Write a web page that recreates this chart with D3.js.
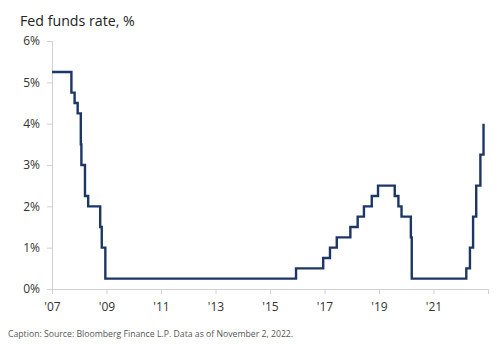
<!DOCTYPE html>
<html><head><meta charset="utf-8">
<script src="https://cdn.jsdelivr.net/npm/d3@7"></script>
<style>body{margin:0;background:#fff}svg{display:block}</style>
</head><body>
<svg id="c" width="500" height="344"></svg>
<script>
const dates = ["2007-01-01","2007-09-18","2007-10-31","2007-12-11","2008-01-22","2008-01-30","2008-03-18","2008-04-30","2008-10-08","2008-10-29","2008-12-16",
"2015-12-16","2016-12-14","2017-03-15","2017-06-14","2017-12-13","2018-03-21","2018-06-13","2018-09-26","2018-12-19",
"2019-07-31","2019-09-18","2019-10-30","2020-03-03","2020-03-15",
"2022-03-16","2022-05-04","2022-06-15","2022-07-27","2022-09-21","2022-11-02"];
const rates = [5.25,4.75,4.5,4.25,3.5,3.0,2.25,2.0,1.5,1.0,0.25,
0.5,0.75,1.0,1.25,1.5,1.75,2.0,2.25,2.5,
2.25,2.0,1.75,1.25,0.25,
0.5,1.0,1.75,2.5,3.25,4.0];
const yTicks = [0,1,2,3,4,5,6];
const xTickYears = [2007,2009,2011,2013,2015,2017,2019,2021];

const svg = d3.select("#c");
const parse = d3.timeParse("%Y-%m-%d");
const data = dates.map((d,i)=>({date:parse(d), v:rates[i]}));
const x = d3.scaleTime().domain([new Date(2007,0,1), new Date(2023,0,1)]).range([52,488]);
const y = d3.scaleLinear().domain([0,6]).range([289,41]);
const font = "'Open Sans', 'Noto Sans', sans-serif";

svg.append("text").attr("x",20).attr("y",26).attr("font-family",font).attr("font-size",14.2).attr("fill","#222").text("Fed funds rate, %");

const ya = svg.append("g").attr("transform","translate(52,0)")
  .call(d3.axisLeft(y).tickValues(yTicks).tickFormat(d=>d+"%").tickSize(5).tickPadding(7));
const xa = svg.append("g").attr("transform","translate(0,289)")
  .call(d3.axisBottom(x).tickValues(xTickYears.map(yy=>new Date(yy,0,1))).tickFormat(d=>"'"+String(d.getFullYear()).slice(2)).tickSize(5).tickPadding(8));
[ya,xa].forEach(a=>{
  a.selectAll("path,line").attr("stroke","#d0d0d0");
  a.selectAll("text").attr("font-family",font).attr("font-size",12).attr("fill","#333");
});

const line = d3.line().x(d=>x(d.date)).y(d=>y(d.v)).curve(d3.curveStepAfter);
svg.append("path").datum(data).attr("d",line).attr("fill","none").attr("stroke","#1c3766").attr("stroke-width",2.4);

svg.append("text").attr("x",8).attr("y",337).attr("font-family",font).attr("font-size",8.7).attr("fill","#555")
  .text("Caption: Source: Bloomberg Finance L.P. Data as of November 2, 2022.");
</script>
</body></html>
